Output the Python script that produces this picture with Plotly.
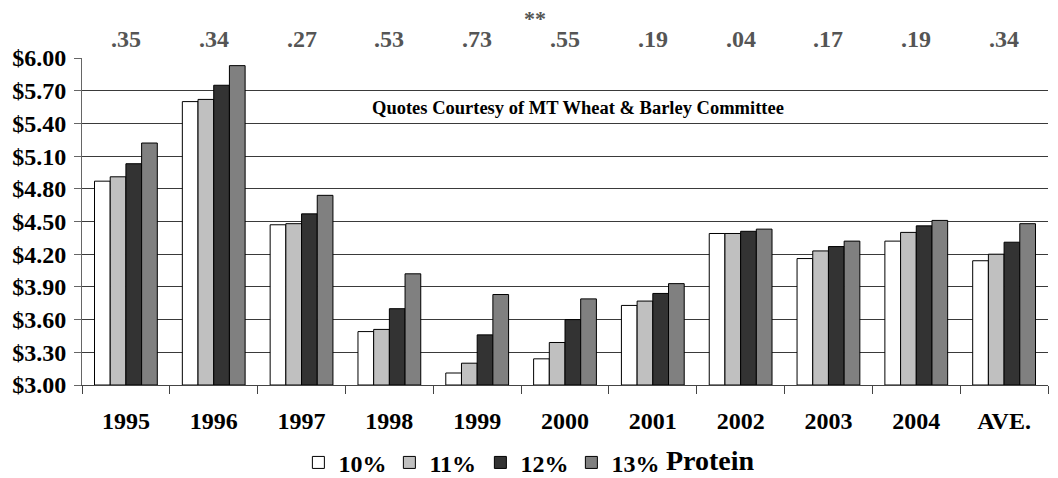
import plotly.graph_objects as go

years = ["1995", "1996", "1997", "1998", "1999", "2000", "2001", "2002", "2003", "2004", "AVE."]
p10 = [4.87, 5.60, 4.47, 3.49, 3.11, 3.24, 3.73, 4.39, 4.16, 4.32, 4.14]
p11 = [4.91, 5.62, 4.48, 3.51, 3.20, 3.39, 3.77, 4.39, 4.23, 4.40, 4.20]
p12 = [5.03, 5.75, 4.57, 3.70, 3.46, 3.60, 3.84, 4.41, 4.27, 4.46, 4.31]
p13 = [5.22, 5.93, 4.74, 4.02, 3.83, 3.79, 3.93, 4.43, 4.32, 4.51, 4.48]
spreads = [".35", ".34", ".27", ".53", ".73", ".55", ".19", ".04", ".17", ".19", ".34"]
y_ticks = [3.00, 3.30, 3.60, 3.90, 4.20, 4.50, 4.80, 5.10, 5.40, 5.70, 6.00]

FONT = "Liberation Serif"
series = [("10%", p10, "#ffffff"), ("11%", p11, "#c0c0c0"),
          ("12%", p12, "#333333"), ("13%", p13, "#808080")]

fig = go.Figure()
for name, vals, color in series:
    fig.add_trace(go.Bar(
        x=years, y=[v - 3.0 for v in vals], base=3.0, name=name,
        marker=dict(color=color, line=dict(color="#000000", width=1)),
    ))

# spread values above each group (category index, so numeric-looking names stay put)
for i, s in enumerate(spreads):
    fig.add_annotation(x=i, y=1.058, xref="x", yref="paper", text=s,
                       showarrow=False, yanchor="middle",
                       font=dict(family=FONT, size=24, color="#555555", weight="bold"))

fig.add_annotation(x=0.469, y=1.12, xref="paper", yref="paper", text="**",
                   showarrow=False, yanchor="middle",
                   font=dict(family=FONT, size=22, color="#555555", weight="bold"))
fig.add_annotation(x=0.729, y=0.847, xref="paper", yref="paper",
                   text="Quotes Courtesy of MT Wheat & Barley Committee",
                   showarrow=False, yanchor="middle",
                   font=dict(family=FONT, size=18.5, color="#000000", weight="bold"))
fig.add_annotation(x=0.6025, y=-0.232, xref="paper", yref="paper", text="Protein",
                   showarrow=False, xanchor="left", yanchor="middle",
                   font=dict(family=FONT, size=28, color="#000000", weight="bold"))

# page body has an 8px margin, so the figure is sized 8px smaller
fig.update_layout(
    width=1050, height=470,
    barmode="group", bargap=0.285, bargroupgap=0,
    plot_bgcolor="#ffffff", paper_bgcolor="#ffffff",
    margin=dict(l=74, r=10, t=50, b=93, autoexpand=False),
    showlegend=True,
    legend=dict(orientation="h", x=0.224, y=-0.238, xanchor="left", yanchor="middle",
                font=dict(family=FONT, size=24, color="#000000", weight="bold"),
                itemwidth=30, entrywidth=46, entrywidthmode="pixels",
                tracegroupgap=0, bgcolor="rgba(0,0,0,0)"),
    font=dict(family=FONT),
)
fig.update_yaxes(
    range=[3.0, 6.0], tickvals=y_ticks,
    ticktext=["$%.2f" % v for v in y_ticks],
    tickfont=dict(family=FONT, size=24, color="#000000", weight="bold"),
    showgrid=True, gridcolor="#3a3a3a", gridwidth=1,
    showline=True, linecolor="#666666", linewidth=1,
    ticks="outside", ticklen=7, tickcolor="#666666",
    ticklabelstandoff=3, automargin=False,
    zeroline=False,
)
fig.update_xaxes(
    type="category", range=[-0.5, 10.5],
    tickfont=dict(family=FONT, size=24, color="#000000", weight="bold"),
    showline=True, linecolor="#444444", linewidth=1,
    ticks="outside", tickson="boundaries", ticklen=8, tickcolor="#444444",
    ticklabelstandoff=14, automargin=False,
    showgrid=False,
)

fig.write_html("out.html")
